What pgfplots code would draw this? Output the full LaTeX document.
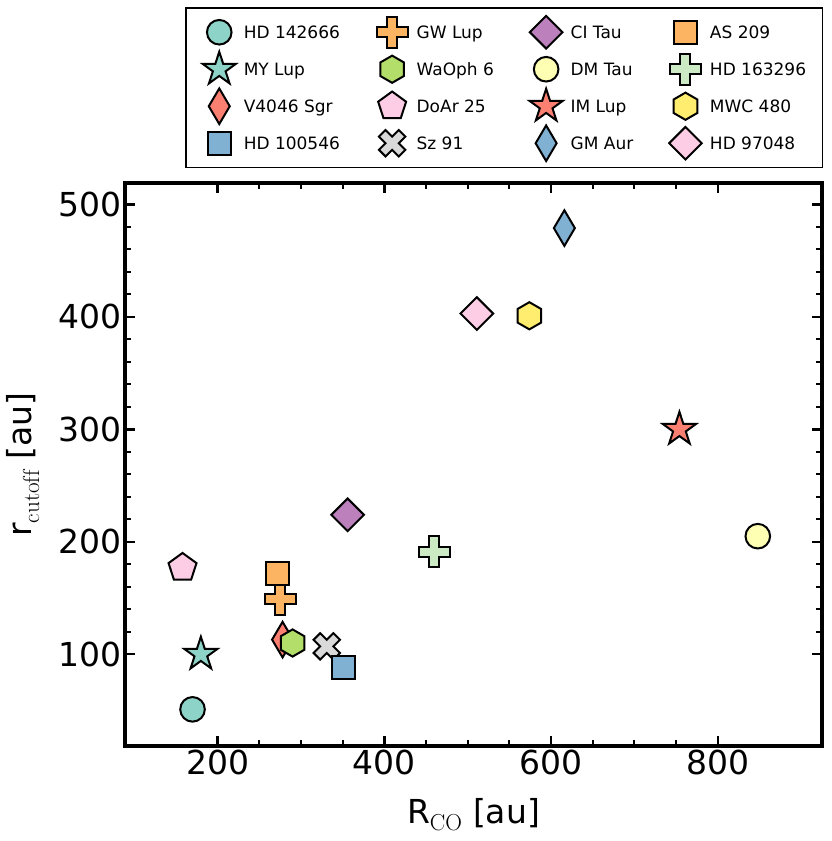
\documentclass[border=0pt]{standalone}
\usepackage{fontspec}
\newfontfamily\djv{DejaVu Sans}
\usepackage{pgfplots}
\pgfplotsset{compat=1.18}
\usetikzlibrary{plotmarks}

\definecolor{cteal}{HTML}{8DD3C7}
\definecolor{csalmon}{HTML}{FB8072}
\definecolor{cblue}{HTML}{80B1D3}
\definecolor{corange}{HTML}{FDB462}
\definecolor{cgreen}{HTML}{B3DE69}
\definecolor{cpink}{HTML}{FCCDE5}
\definecolor{cgrey}{HTML}{D9D9D9}
\definecolor{cpurple}{HTML}{BC80BD}
\definecolor{clyellow}{HTML}{FFFFB3}
\definecolor{clgreen}{HTML}{CCEBC5}
\definecolor{cyellow}{HTML}{FFED6F}

% custom marks (1pt = 1px of the reference)
\pgfdeclareplotmark{mcirc}{\pgfpathcircle{\pgfpointorigin}{12.3pt}\pgfusepathqfillstroke}
\pgfdeclareplotmark{msq}{\pgfpathrectangle{\pgfqpoint{-11.5pt}{-11.5pt}}{\pgfqpoint{23pt}{23pt}}\pgfusepathqfillstroke}
\pgfdeclareplotmark{mD}{%
  \pgfpathmoveto{\pgfqpoint{0pt}{16.3pt}}\pgfpathlineto{\pgfqpoint{16.3pt}{0pt}}%
  \pgfpathlineto{\pgfqpoint{0pt}{-16.3pt}}\pgfpathlineto{\pgfqpoint{-16.3pt}{0pt}}%
  \pgfpathclose\pgfusepathqfillstroke}
\pgfdeclareplotmark{md}{%
  \pgfpathmoveto{\pgfqpoint{0pt}{17.8pt}}\pgfpathlineto{\pgfqpoint{10.5pt}{0pt}}%
  \pgfpathlineto{\pgfqpoint{0pt}{-17.8pt}}\pgfpathlineto{\pgfqpoint{-10.5pt}{0pt}}%
  \pgfpathclose\pgfusepathqfillstroke}
\pgfdeclareplotmark{mplus}{%
  \pgfpathmoveto{\pgfqpoint{-5pt}{-15.5pt}}\pgfpathlineto{\pgfqpoint{5pt}{-15.5pt}}%
  \pgfpathlineto{\pgfqpoint{5pt}{-5pt}}\pgfpathlineto{\pgfqpoint{15.5pt}{-5pt}}%
  \pgfpathlineto{\pgfqpoint{15.5pt}{5pt}}\pgfpathlineto{\pgfqpoint{5pt}{5pt}}%
  \pgfpathlineto{\pgfqpoint{5pt}{15.5pt}}\pgfpathlineto{\pgfqpoint{-5pt}{15.5pt}}%
  \pgfpathlineto{\pgfqpoint{-5pt}{5pt}}\pgfpathlineto{\pgfqpoint{-15.5pt}{5pt}}%
  \pgfpathlineto{\pgfqpoint{-15.5pt}{-5pt}}\pgfpathlineto{\pgfqpoint{-5pt}{-5pt}}%
  \pgfpathclose\pgfusepathqfillstroke}
\pgfdeclareplotmark{mX}{%
  \pgfpathmoveto{\pgfqpoint{-6.6pt}{-13.2pt}}\pgfpathlineto{\pgfqpoint{0pt}{-6.6pt}}%
  \pgfpathlineto{\pgfqpoint{6.6pt}{-13.2pt}}\pgfpathlineto{\pgfqpoint{13.2pt}{-6.6pt}}%
  \pgfpathlineto{\pgfqpoint{6.6pt}{0pt}}\pgfpathlineto{\pgfqpoint{13.2pt}{6.6pt}}%
  \pgfpathlineto{\pgfqpoint{6.6pt}{13.2pt}}\pgfpathlineto{\pgfqpoint{0pt}{6.6pt}}%
  \pgfpathlineto{\pgfqpoint{-6.6pt}{13.2pt}}\pgfpathlineto{\pgfqpoint{-13.2pt}{6.6pt}}%
  \pgfpathlineto{\pgfqpoint{-6.6pt}{0pt}}\pgfpathlineto{\pgfqpoint{-13.2pt}{-6.6pt}}%
  \pgfpathclose\pgfusepathqfillstroke}
\pgfdeclareplotmark{mhex}{%
  \pgfpathmoveto{\pgfpointpolar{90}{13.6pt}}%
  \pgfpathlineto{\pgfpointpolar{150}{13.6pt}}\pgfpathlineto{\pgfpointpolar{210}{13.6pt}}%
  \pgfpathlineto{\pgfpointpolar{270}{13.6pt}}\pgfpathlineto{\pgfpointpolar{330}{13.6pt}}%
  \pgfpathlineto{\pgfpointpolar{30}{13.6pt}}%
  \pgfpathclose\pgfusepathqfillstroke}
\pgfdeclareplotmark{mpent}{%
  \pgfpathmoveto{\pgfpointpolar{90}{14.7pt}}%
  \pgfpathlineto{\pgfpointpolar{162}{14.7pt}}\pgfpathlineto{\pgfpointpolar{234}{14.7pt}}%
  \pgfpathlineto{\pgfpointpolar{306}{14.7pt}}\pgfpathlineto{\pgfpointpolar{18}{14.7pt}}%
  \pgfpathclose\pgfusepathqfillstroke}
\pgfdeclareplotmark{mstar}{%
  \pgfpathmoveto{\pgfpointpolar{90}{17.5pt}}%
  \pgfpathlineto{\pgfpointpolar{126}{6.7pt}}\pgfpathlineto{\pgfpointpolar{162}{17.5pt}}%
  \pgfpathlineto{\pgfpointpolar{198}{6.7pt}}\pgfpathlineto{\pgfpointpolar{234}{17.5pt}}%
  \pgfpathlineto{\pgfpointpolar{270}{6.7pt}}\pgfpathlineto{\pgfpointpolar{306}{17.5pt}}%
  \pgfpathlineto{\pgfpointpolar{342}{6.7pt}}\pgfpathlineto{\pgfpointpolar{18}{17.5pt}}%
  \pgfpathlineto{\pgfpointpolar{54}{6.7pt}}%
  \pgfpathclose\pgfusepathqfillstroke}

\pgfplotsset{
  mk/.style 2 args={only marks, mark=#1, mark options={solid, draw=black, fill=#2, line width=2pt}},
  lg/.style 2 args={mark=#1, mark options={solid, draw=black, fill=#2, line width=2pt}},
}

\begin{document}
\begin{tikzpicture}
\path[use as bounding box] (0pt,0pt) rectangle (831pt,841pt);
\begin{axis}[
  at={(125pt,95pt)}, anchor=south west,
  scale only axis, width=697pt, height=563pt,
  xmin=89, xmax=925, ymin=18.4, ymax=519.1,
  xtick={200,400,600,800}, ytick={100,200,300,400,500},
  minor x tick num=3, minor y tick num=4,
  tick align=inside,
  major tick length=10pt, minor tick length=6pt,
  major tick style={line width=2.5pt, black},
  minor tick style={line width=2pt, black},
  axis line style={line width=4pt, black},
  /pgf/number format/assume math mode=true,
  tick label style={font=\djv\fontsize{33}{40}\selectfont},
  label style={font=\djv\fontsize{33}{40}\selectfont},
  xlabel={R$_{\mathrm{CO}}$ [au]},
  ylabel={r$_{\mathrm{cutoff}}$ [au]},
  xlabel style={at={(axis description cs:0.5,-0.1368)}, anchor=base},
  ylabel style={at={(axis description cs:-0.134,0.5)}, anchor=base},
  legend columns=4,
  legend cell align=left,
  legend image code/.code={\path[draw=none,fill=none] (-17pt,-18.5pt) rectangle (17pt,18.5pt); \draw[#1] plot coordinates {(0pt,0pt)};},
  legend style={at={(0.0861,1.3121)}, anchor=north west, draw=black, line width=1.5pt,
    inner xsep=16.5pt, inner ysep=5.7pt, row sep=0pt,
    font=\djv\fontsize{17}{20}\selectfont,
    nodes={inner sep=0pt, text height=15.2pt, text depth=3pt},
    cells={anchor=west},
    /tikz/every odd column/.append style={column sep=7.5pt},
    /tikz/every even column/.append style={column sep=35.2pt}},
]
% plotted data (forget plot); legend built separately
\addplot[mk={mcirc}{cteal}, forget plot] coordinates {(170,51)};   % HD 142666
\addplot[mk={mstar}{cteal}, forget plot] coordinates {(180,100)};  % MY Lup
\addplot[mk={md}{csalmon}, forget plot] coordinates {(278,113)};   % V4046 Sgr
\addplot[mk={mplus}{corange}, forget plot] coordinates {(275,149)};% GW Lup
\addplot[mk={mhex}{cgreen}, forget plot] coordinates {(290,110)};  % WaOph 6
\addplot[mk={mpent}{cpink}, forget plot] coordinates {(158,177)};  % DoAr 25
\addplot[mk={mX}{cgrey}, forget plot] coordinates {(331,107)};     % Sz 91
\addplot[mk={msq}{cblue}, forget plot] coordinates {(351,88)};     % HD 100546
\addplot[mk={mD}{cpurple}, forget plot] coordinates {(356,224)};   % CI Tau
\addplot[mk={mcirc}{clyellow}, forget plot] coordinates {(848,205)};% DM Tau
\addplot[mk={mstar}{csalmon}, forget plot] coordinates {(754,300)};% IM Lup
\addplot[mk={md}{cblue}, forget plot] coordinates {(616,479)};     % GM Aur
\addplot[mk={msq}{corange}, forget plot] coordinates {(272,172)};  % AS 209
\addplot[mk={mplus}{clgreen}, forget plot] coordinates {(460,191)};% HD 163296
\addplot[mk={mhex}{cyellow}, forget plot] coordinates {(574,401)}; % MWC 480
\addplot[mk={mD}{cpink}, forget plot] coordinates {(511,403)};     % HD 97048

% legend, row by row
\addlegendimage{lg={mcirc}{cteal}}\addlegendentry{HD 142666}
\addlegendimage{lg={mplus}{corange}}\addlegendentry{GW Lup}
\addlegendimage{lg={mD}{cpurple}}\addlegendentry{CI Tau}
\addlegendimage{lg={msq}{corange}}\addlegendentry{AS 209}
\addlegendimage{lg={mstar}{cteal}}\addlegendentry{MY Lup}
\addlegendimage{lg={mhex}{cgreen}}\addlegendentry{WaOph 6}
\addlegendimage{lg={mcirc}{clyellow}}\addlegendentry{DM Tau}
\addlegendimage{lg={mplus}{clgreen}}\addlegendentry{HD 163296}
\addlegendimage{lg={md}{csalmon}}\addlegendentry{V4046 Sgr}
\addlegendimage{lg={mpent}{cpink}}\addlegendentry{DoAr 25}
\addlegendimage{lg={mstar}{csalmon}}\addlegendentry{IM Lup}
\addlegendimage{lg={mhex}{cyellow}}\addlegendentry{MWC 480}
\addlegendimage{lg={msq}{cblue}}\addlegendentry{HD 100546}
\addlegendimage{lg={mX}{cgrey}}\addlegendentry{Sz 91}
\addlegendimage{lg={md}{cblue}}\addlegendentry{GM Aur}
\addlegendimage{lg={mD}{cpink}}\addlegendentry{HD 97048}
\end{axis}
\end{tikzpicture}
\end{document}
